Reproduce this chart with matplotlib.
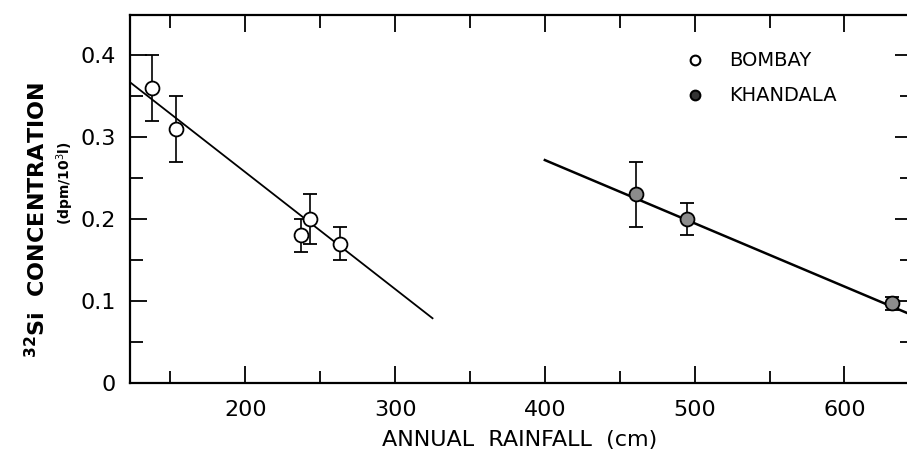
import matplotlib
matplotlib.use("Agg")
import matplotlib.pyplot as plt

# Bombay (offene Kreise)
bombay_regen = [138, 154, 237, 243, 263]
bombay_si = [0.36, 0.31, 0.18, 0.20, 0.17]
bombay_fehler = [0.04, 0.04, 0.02, 0.03, 0.02]

# Khandala (gefuellte Kreise)
khandala_regen = [461, 495, 632]
khandala_si = [0.23, 0.20, 0.097]
khandala_fehler = [0.04, 0.02, 0.008]

# Regressionsgeraden (Endpunkte)
linie1_x = [123, 325]
linie1_y = [0.367, 0.079]
linie2_x = [400, 645]
linie2_y = [0.272, 0.083]

plt.rcParams['font.family'] = ['DejaVu Sans']

fig = plt.figure(figsize=(9.07, 4.59), dpi=100)
ax = fig.add_axes([0.1433, 0.1656, 0.862, 0.8017])

ax.plot(linie1_x, linie1_y, color='black', lw=1.3)
ax.plot(linie2_x, linie2_y, color='black', lw=1.8)

ax.errorbar(bombay_regen, bombay_si, yerr=bombay_fehler, fmt='o', ms=10,
            mfc='white', mec='black', mew=1.3, ecolor='black', elinewidth=1.2,
            capsize=5, capthick=1.2, zorder=3)
ax.errorbar(khandala_regen, khandala_si, yerr=khandala_fehler, fmt='o', ms=10,
            mfc='0.55', mec='black', mew=1.3, ecolor='black', elinewidth=1.2,
            capsize=5, capthick=1.2, zorder=3)

# Legende als Text
ax.plot([500], [0.394], 'o', ms=7, mfc='white', mec='black', mew=1.5)
ax.plot([500], [0.351], 'o', ms=7, mfc='0.2', mec='black', mew=1.5)
ax.text(523, 0.394, 'BOMBAY', fontsize=14, va='center')
ax.text(523, 0.351, 'KHANDALA', fontsize=14, va='center')

ax.set_xlim(123, 645)
ax.set_ylim(0, 0.449)
ax.set_xticks([200, 300, 400, 500, 600])
ax.set_xticks([150, 250, 350, 450, 550], minor=True)
ax.set_yticks([0, 0.1, 0.2, 0.3, 0.4])
ax.set_yticklabels(['0', '0.1', '0.2', '0.3', '0.4'])
ax.set_yticks([0.05, 0.15, 0.25, 0.35], minor=True)
ax.tick_params(which='both', direction='in', top=True, right=True,
               width=1.3, labelsize=16)
ax.tick_params(axis='x', pad=12)
ax.tick_params(axis='y', pad=10)
ax.tick_params(which='major', length=12)
ax.tick_params(which='minor', length=9)
for s in ax.spines.values():
    s.set_linewidth(1.6)

fig.text(0.573, 0.041, 'ANNUAL  RAINFALL  (cm)', fontsize=16,
         ha='center', va='center')
fig.text(0.04, 0.52, r'$^{\mathbf{32}}$Si  CONCENTRATION', rotation=90,
         fontsize=16, fontweight='bold', ha='center', va='center')
fig.text(0.072, 0.6, '(dpm/10$^3$l)', rotation=90, fontsize=10,
         fontweight='bold', ha='center', va='center')

fig.savefig('out.png', dpi=100)
